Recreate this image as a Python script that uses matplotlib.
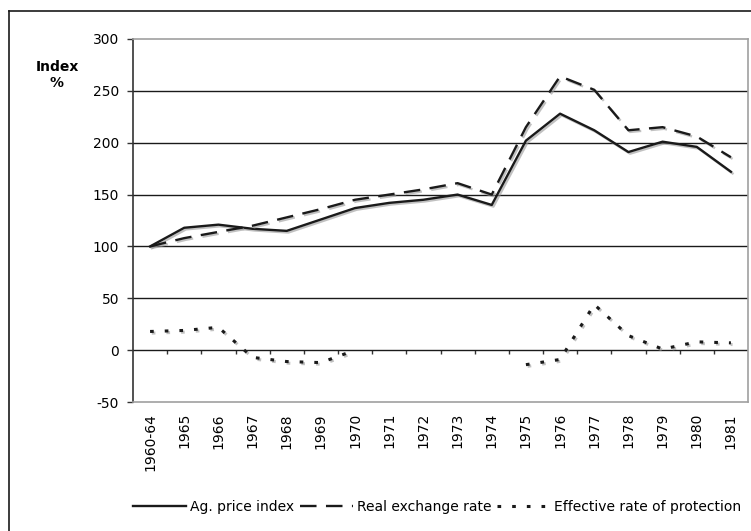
import numpy as np
import matplotlib
matplotlib.use("Agg")
import matplotlib.pyplot as plt
import matplotlib.patheffects as pe
from matplotlib.lines import Line2D

plt.rcParams["axes.unicode_minus"] = False

years = ["1960-64", "1965", "1966", "1967", "1968", "1969", "1970", "1971", "1972",
         "1973", "1974", "1975", "1976", "1977", "1978", "1979", "1980", "1981"]
ag_price = [100, 118, 121, 117, 115, 126, 137, 142, 145,
            150, 140, 202, 228, 212, 191, 201, 196, 172]
real_exch = [100, 108, 114, 120, 128, 136, 145, 150, 155,
             161, 150, 215, 264, 251, 212, 215, 206, 186]
eff_prot = [18, 19, 22, -7, -11, -12, 0, np.nan, np.nan,
            np.nan, np.nan, -14, -9, 44, 14, 1, 8, 7]

fig = plt.figure(figsize=(7.51, 5.31), dpi=100)
W, H = 751, 531
ax = fig.add_axes([133 / W, 1 - 402 / H, 615 / W, 363 / H])

x = np.arange(len(years))
shadow = [pe.SimpleLineShadow(offset=(1.2, -1.2), shadow_color="#999999", alpha=0.6), pe.Normal()]

ax.plot(x, ag_price, color="#1a1a1a", lw=1.7, path_effects=shadow, zorder=4)
ax.plot(x, real_exch, color="#1a1a1a", lw=1.7, dashes=(7, 4), path_effects=shadow, zorder=4)
ax.plot(x, eff_prot, color="#1a1a1a", lw=2.2, dashes=(1.2, 3.6), path_effects=shadow, zorder=4)

ax.set_xlim(-0.5, len(years) - 0.5)
ax.set_ylim(-50, 300)
ax.set_yticks(range(-50, 301, 50))
for v in range(0, 300, 50):
    ax.axhline(v, color="#1a1a1a", lw=1.0, zorder=2)

ax.set_xticks(x)
ax.set_xticklabels(years, rotation=90, fontsize=10)
ax.tick_params(axis="x", length=0, pad=8)
ax.tick_params(axis="y", direction="out", length=4, width=1, labelsize=10, pad=6, color="#333333")

for side in ["top", "right", "bottom"]:
    ax.spines[side].set_color("#a0a0a0")
    ax.spines[side].set_linewidth(1.2)
ax.spines["left"].set_color("#333333")
ax.spines["left"].set_linewidth(1.2)

# category boundary ticks on the zero line
sec = ax.secondary_xaxis(0, transform=ax.transData)
sec.set_xticks(x[:-1] + 0.5)
sec.set_xticklabels([])
sec.tick_params(direction="out", length=3, width=1, color="#333333")
sec.spines["bottom"].set_visible(False)

fig.text(57 / W, 1 - 75 / H, "Index\n%", ha="center", va="center",
         fontsize=10, fontweight="bold", linespacing=1.1)

handles = [
    Line2D([], [], color="#1a1a1a", lw=1.7),
    Line2D([], [], color="#1a1a1a", lw=1.7, dashes=(7, 4)),
    Line2D([], [], color="#1a1a1a", lw=2.2, dashes=(1.2, 3.6)),
]
fig.legend(handles, ["Ag. price index", "Real exchange rate", "Effective rate of protection"],
           loc="center", bbox_to_anchor=(437 / W, 1 - 507 / H), ncol=3, frameon=False,
           fontsize=10, handlelength=3.8, handletextpad=0.3, columnspacing=0.4)

# outer frame (top and left only, as cropped)
fig.add_artist(Line2D([9 / W, 9 / W], [0, 1 - 11 / H], color="#1a1a1a", lw=1.2,
                      transform=fig.transFigure))
fig.add_artist(Line2D([9 / W, 1], [1 - 11 / H, 1 - 11 / H], color="#1a1a1a", lw=1.2,
                      transform=fig.transFigure))

fig.savefig("out.png", dpi=100)
